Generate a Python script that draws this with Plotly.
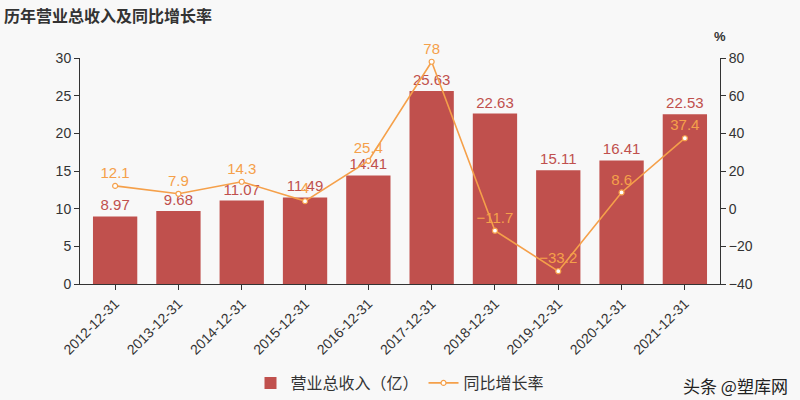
import plotly.graph_objects as go

dates = ["2012-12-31","2013-12-31","2014-12-31","2015-12-31","2016-12-31",
         "2017-12-31","2018-12-31","2019-12-31","2020-12-31","2021-12-31"]
revenue = [8.97, 9.68, 11.07, 11.49, 14.41, 25.63, 22.63, 15.11, 16.41, 22.53]
growth = [12.1, 7.9, 14.3, 4.0, 25.4, 78, -11.7, -33.2, 8.6, 37.4]
growth_labels = ["12.1","7.9","14.3","4","25.4","78","\u221211.7","\u221233.2","8.6","37.4"]

bar_color = "#c0504d"
line_color = "#f5a04a"
font = "Liberation Sans, Noto Sans CJK SC, sans-serif"
cjk = "Noto Sans CJK SC, sans-serif"

fig = go.Figure()
fig.add_trace(go.Bar(
    x=dates, y=revenue, name="营业总收入（亿）",
    marker=dict(color=bar_color, line=dict(width=0)),
    text=[f"{v:g}" for v in revenue], textposition="outside",
    textfont=dict(color=bar_color, size=15), cliponaxis=False,
))
fig.add_trace(go.Scatter(
    x=dates, y=growth, name="同比增长率", yaxis="y2",
    mode="lines+markers+text",
    line=dict(color=line_color, width=1.6),
    marker=dict(symbol="circle", size=5, color="white", line=dict(color=line_color, width=1.2)),
    text=growth_labels, textposition="top center",
    textfont=dict(color=line_color, size=15), cliponaxis=False,
))

fig.update_layout(
    width=800, height=400,
    paper_bgcolor="#f8f8f8", plot_bgcolor="#f8f8f8",
    margin=dict(l=80, r=80, t=58, b=116, autoexpand=False),
    font=dict(family=font, color="#333", size=12),
    bargap=0.3,
    showlegend=True,
    legend=dict(orientation="h", x=0.5, xanchor="center", xref="container",
                y=0.085, yanchor="top", yref="container",
                font=dict(size=16, color="#333", family=cjk), bgcolor="rgba(0,0,0,0)"),
    title=dict(text="<b>历年营业总收入及同比增长率</b>", x=0.005, xanchor="left", y=0.96, yanchor="middle",
               font=dict(size=16, color="#333", family=cjk)),
    xaxis=dict(type="category", showline=True, linecolor="#333", linewidth=1, automargin=False,
               ticks="outside", ticklen=5, tickcolor="#333", tickangle=-45,
               tickfont=dict(size=14, color="#333"), showgrid=False, zeroline=False),
    yaxis=dict(range=[0, 30], dtick=5, showline=True, linecolor="#333", linewidth=1, automargin=False,
               ticks="outside", ticklen=5, tickcolor="#333", showgrid=False, zeroline=False,
               tickfont=dict(size=14, color="#333")),
    yaxis2=dict(range=[-40, 80], dtick=20, overlaying="y", side="right", automargin=False,
                showline=True, linecolor="#333", linewidth=1,
                ticks="outside", ticklen=5, tickcolor="#333", showgrid=False, zeroline=False,
                tickfont=dict(size=14, color="#333")),
    annotations=[
        dict(text="<b>%</b>", xref="paper", yref="paper", x=1.0, y=1.093, xanchor="center", yanchor="middle",
             showarrow=False, font=dict(size=13, color="#333")),
        dict(text="头条 @塑库网", xref="paper", yref="paper", x=1.109, y=-0.385, xanchor="right", yanchor="top",
             showarrow=False, font=dict(size=17, color="#222", family=cjk)),
    ],
)

fig.write_html("out.html")
